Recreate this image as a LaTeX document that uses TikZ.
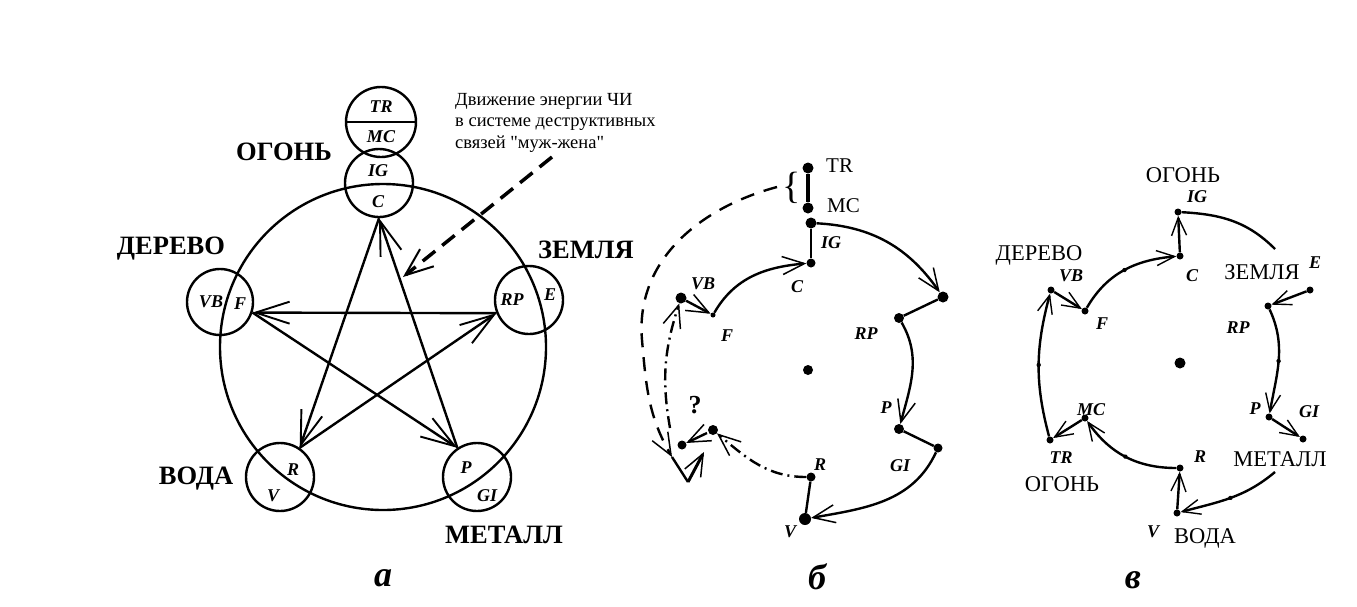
\documentclass[tikz,border=0pt]{standalone}
\usepackage{fontspec}
\setmainfont{Liberation Serif}
\newfontfamily\annfont{Liberation Serif}
\usetikzlibrary{arrows.meta,decorations.markings}
\begin{document}
\begin{tikzpicture}[x=1pt,y=1pt,
 lw/.style={line width=2.4pt},
 sc/.style={circle,draw,line width=2.4pt,inner sep=0pt,minimum size=#1},
 barb/.style={-{Straight Barb[length=34pt,width=22pt,line width=1.9pt]}},
 mbarb/.style={-{Straight Barb[length=22pt,width=18pt,line width=1.5pt]}},
 rbarb/.style={-{Straight Barb[length=18pt,width=15pt,line width=1.4pt]}},
 dot/.style={circle,fill,inner sep=0pt,minimum size=#1},
 elem/.style={font=\fontsize{26.5}{30}\selectfont\bfseries,inner sep=0pt},
 elemr/.style={font=\fontsize{22.5}{26}\selectfont,inner sep=0pt},
 trmc/.style={font=\fontsize{21}{24}\selectfont,inner sep=0pt},
 cl/.style={font=\fontsize{18}{21}\selectfont\bfseries\itshape,inner sep=0pt},
 bigl/.style={font=\fontsize{36}{40}\selectfont\bfseries\itshape,inner sep=0pt},
 dashdot/.style={dash pattern=on 12pt off 5pt on 2pt off 5pt},
 midtick/.style={postaction={decorate},decoration={markings,mark=at position 0.5 with {\fill (0,0) circle (2.2pt);}}},
]
\useasboundingbox (0,0) rectangle (1357,-606);

%%%%%%%%%%%%%%%% diagram a
\node[sc=326pt] (ring) at (383,-347) {};
\node[sc=70pt] (TRMC) at (381,-122) {};
\draw[lw] (TRMC.west) -- (TRMC.east);
\node[sc=68pt] (IGC) at (379,-183) {};
\node[sc=66pt] (VBF) at (220,-302) {};
\node[sc=68pt] (RPE) at (529,-300) {};
\node[sc=68pt] (RV) at (280,-477) {};
\node[sc=68pt] (PGI) at (477,-477) {};

\node[cl] (aTR) at (381,-107) {TR};
\node[cl] (aMC) at (381,-137) {MC};
\node[cl] (aIG) at (378,-171) {IG};
\node[cl] (aC) at (378,-202) {C};
\node[cl] (aVB) at (211,-302) {VB};
\node[cl] (aF) at (240,-304) {F};
\node[cl] (aRP) at (512,-300) {RP};
\node[cl] (aE) at (550,-295) {E};
\node[cl] (aR) at (293,-470) {R};
\node[cl] (aV) at (273,-496) {V};
\node[cl] (aP) at (466,-468) {P};
\node[cl] (aGI) at (487,-496) {GI};

\draw[lw,barb] (IGC.south) -- (RV.56);
\draw[lw,barb] (RV.56) -- (RPE.202);
\draw[lw,barb] (RPE.202) -- (VBF.-18);
\draw[lw,barb] (VBF.-18) -- (PGI.124);
\draw[lw,barb] (PGI.124) -- (IGC.south);

\node[elem] (aFire) at (284,-152) {ОГОНЬ};
\node[elem] (aWood) at (171,-249) {ДЕРЕВО};
\node[elem] (aEarth) at (586,-250) {ЗЕМЛЯ};
\node[elem] (aWater) at (196,-479) {ВОДА};
\node[elem] (aMetal) at (504,-535) {МЕТАЛЛ};
\node[bigl] (la) at (383,-578) {а};

\node[anchor=north west,align=left,inner sep=0pt,font=\annfont\fontsize{18.5}{21.5}\selectfont] (ann) at (455,-93)
 {Движение энергии ЧИ\\в системе деструктивных\\связей "муж-жена"};
\coordinate (dstart) at (552,-157);
\coordinate (dtip) at (403,-277);
\draw[line width=3.5pt,dash pattern=on 16pt off 9pt,-{Straight Barb[length=28pt,width=22pt,line width=2pt]}] (dstart) -- (dtip);

%%%%%%%%%%%%%%%% diagram b
\node[dot=11pt] (mTR) at (808,-168) {};
\node[dot=11pt] (mMC) at (808,-208) {};
\draw[line width=4pt] (mTR) -- (mMC);
\node[trmc,anchor=west] (mTRl) at (826,-166) {TR};
\node[trmc,anchor=west] (mMCl) at (827,-206) {MC};
\node[inner sep=0pt,font=\fontsize{38}{40}\selectfont] (brace) at (792,-188) {\{};
\node[dot=11pt] (mIG) at (811,-223) {};
\node[dot=9pt] (mC) at (811,-263) {};
\node[cl] (mIGl) at (831,-243) {IG};
\node[cl] (mCl) at (797,-287) {C};
\node[dot=11pt] (mQ1) at (943,-297) {};
\node[dot=10pt] (mRP) at (899,-318) {};
\node[cl] (mRPl) at (866,-334) {RP};
\node[dot=10pt] (mP) at (899,-429) {};
\node[cl] (mPl) at (886,-408) {P};
\node[dot=9pt] (mGI) at (938,-448) {};
\node[cl] (mGIl) at (900,-466) {GI};
\node[dot=12pt] (mV) at (805,-519) {};
\node[cl] (mVl) at (790,-532) {V};
\node[dot=9pt] (mR) at (811,-477) {};
\node[cl] (mRl) at (820,-465) {R};
\node[dot=10pt] (mQA) at (713,-430) {};
\node[dot=9pt] (mQB) at (682,-445) {};
\node[inner sep=0pt,font=\fontsize{26}{30}\selectfont\bfseries] (mQ) at (695,-405) {?};
\node[dot=11pt] (mVB) at (681,-298) {};
\node[cl] (mVBl) at (703,-284) {VB};
\node[dot=5pt] (mF) at (713,-315) {};
\node[cl] (mFl) at (727,-336) {F};
\node[dot=10pt] (mCen) at (808,-370) {};
\node[bigl] (lb) at (817,-577) {б};

\draw[lw] (mIG) -- (mC);
\draw[lw,mbarb] (mIG) to[out=-3,in=125] (mQ1);
\draw[lw] (mQ1) -- (mRP);
\draw[lw,mbarb] (mRP) to[out=-60,in=75] (mP);
\draw[lw] (mP) -- (mGI);
\draw[lw,mbarb] (mGI) to[out=-115,in=10] (mV);
\draw[lw] (mV) -- (mR);
\draw[lw,dashdot,mbarb] (mR) to[out=180,in=-40] (mQA);
\coordinate (qs) at (707,-433);
\draw[lw,mbarb] (qs) -- (mQB);
\draw[lw,mbarb] (mVB) -- (mF);
\draw[lw,mbarb] (mF) to[out=60,in=185] (mC);
\coordinate (istart) at (670,-428);
\draw[lw,dashdot,mbarb] (istart) to[out=100,in=-108] (mVB);
\coordinate (bstart) at (777,-187);
\coordinate (bmid) at (642,-340);
\coordinate (bend) at (672,-457);
\coordinate (bv) at (688,-482);
\coordinate (btip) at (704,-452);
\draw[lw,dash pattern=on 14pt off 10pt,mbarb] (bstart) to[out=195,in=95] (bmid) to[out=-85,in=120] (bend);
\draw[lw] (bend) -- (bv);
\draw[line width=3pt,mbarb] (bv) -- (btip);

%%%%%%%%%%%%%%%% diagram c
\node[dot=7pt] (rIG) at (1178,-212) {};
\node[dot=7pt] (rC) at (1180,-256) {};
\node[dot=7pt] (rE) at (1310,-290) {};
\node[dot=7pt] (rRP) at (1268,-306) {};
\node[dot=7pt] (rP) at (1269,-417) {};
\node[dot=7pt] (rGI) at (1303,-439) {};
\node[dot=7pt] (rV) at (1177,-513) {};
\node[dot=7pt] (rR) at (1180,-468) {};
\node[dot=7pt] (rMC) at (1085,-418) {};
\node[dot=7pt] (rTR) at (1050,-440) {};
\node[dot=7pt] (rVB) at (1051,-290) {};
\node[dot=7pt] (rF) at (1085,-311) {};
\node[dot=11pt] (rCen) at (1180,-363) {};
\coordinate (rZ) at (1275,-249);
\coordinate (rM) at (1275,-472);

\node[elemr] (rFire1) at (1183,-175) {ОГОНЬ};
\node[cl] (rIGl) at (1197,-197) {IG};
\node[cl] (rCl) at (1192,-276) {C};
\node[elemr] (rEarth) at (1262,-272) {ЗЕМЛЯ};
\node[cl] (rEl) at (1315,-263) {E};
\node[cl] (rRPl) at (1238,-328) {RP};
\node[cl] (rPl) at (1255,-409) {P};
\node[cl] (rGIl) at (1309,-412) {GI};
\node[elemr] (rMetal) at (1280,-459) {МЕТАЛЛ};
\node[cl] (rVl) at (1153,-532) {V};
\node[elemr] (rWater) at (1205,-538) {ВОДА};
\node[cl] (rRl) at (1200,-457) {R};
\node[cl] (rMCl) at (1091,-410) {MC};
\node[cl] (rTRl) at (1061,-458) {TR};
\node[elemr] (rFire2) at (1062,-484) {ОГОНЬ};
\node[cl] (rVBl) at (1071,-276) {VB};
\node[elemr] (rWood) at (1039,-255) {ДЕРЕВО};
\node[cl] (rFl) at (1102,-324) {F};
\node[bigl] (lc) at (1133,-580) {в};

\draw[lw] (rIG) to[out=-3,in=135] (rZ);
\draw[lw,rbarb] (rE) -- (rRP);
\draw[lw,rbarb,midtick] (rRP) to[out=-65,in=80] (rP);
\draw[lw,rbarb] (rP) -- (rGI);
\draw[lw,rbarb,midtick] (rM) to[out=-140,in=15] (rV);
\draw[lw,rbarb] (rV) -- (rR);
\draw[lw,rbarb,midtick] (rR) to[out=180,in=-55] (rMC);
\draw[lw,rbarb] (rMC) -- (rTR);
\draw[lw,rbarb,midtick] (rTR) to[out=105,in=-105] (rVB);
\draw[lw,rbarb] (rVB) -- (rF);
\draw[lw,rbarb,midtick] (rF) to[out=60,in=185] (rC);
\draw[lw,rbarb] (rC) -- (rIG);
\end{tikzpicture}
\end{document}
